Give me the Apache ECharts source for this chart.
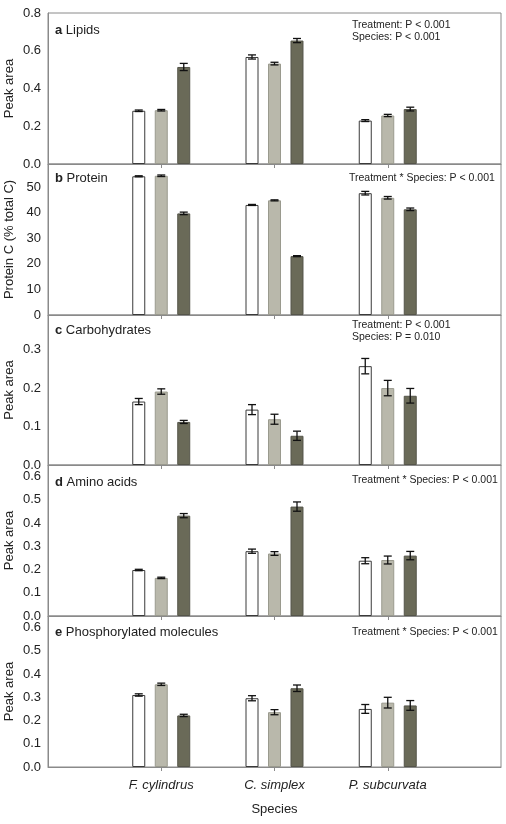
<!DOCTYPE html>
<html>
<head>
<meta charset="utf-8">
<script src="https://cdn.jsdelivr.net/npm/echarts@6/dist/echarts.min.js"></script>
<style>
html,body{margin:0;padding:0;background:#fff;}
#chart{width:506px;height:824px;}
</style>
</head>
<body>
<div id="chart"></div>
<script>
// ---------- data ----------
const categories = ['', 'F. cylindrus', 'C. simplex', 'P. subcurvata', ''];
const catIndex = [1, 2, 3];

const lipidsWhite = [0.282, 0.567, 0.230];
const lipidsWhiteErr = [0.004, 0.011, 0.005];
const lipidsGray = [0.285, 0.532, 0.257];
const lipidsGrayErr = [0.004, 0.007, 0.006];
const lipidsDark = [0.514, 0.654, 0.291];
const lipidsDarkErr = [0.019, 0.011, 0.010];

const proteinWhite = [54.2, 43.0, 47.6];
const proteinWhiteErr = [0.2, 0.2, 0.7];
const proteinGray = [54.4, 44.8, 45.8];
const proteinGrayErr = [0.3, 0.2, 0.5];
const proteinDark = [39.7, 23.0, 41.3];
const proteinDarkErr = [0.5, 0.2, 0.5];

const carbWhite = [0.165, 0.144, 0.257];
const carbWhiteErr = [0.008, 0.013, 0.020];
const carbGray = [0.191, 0.119, 0.200];
const carbGrayErr = [0.007, 0.013, 0.020];
const carbDark = [0.112, 0.076, 0.180];
const carbDarkErr = [0.004, 0.012, 0.019];

const aminoWhite = [0.198, 0.279, 0.238];
const aminoWhiteErr = [0.003, 0.009, 0.013];
const aminoGray = [0.164, 0.269, 0.241];
const aminoGrayErr = [0.003, 0.008, 0.017];
const aminoDark = [0.432, 0.471, 0.260];
const aminoDarkErr = [0.009, 0.020, 0.018];

const phosWhite = [0.310, 0.296, 0.250];
const phosWhiteErr = [0.005, 0.011, 0.019];
const phosGray = [0.356, 0.236, 0.277];
const phosGrayErr = [0.005, 0.011, 0.023];
const phosDark = [0.222, 0.339, 0.265];
const phosDarkErr = [0.005, 0.014, 0.021];

const yTicksA = [0, 0.2, 0.4, 0.6, 0.8];
const yTicksB = [0, 10, 20, 30, 40, 50];
const yTicksC = [0, 0.1, 0.2, 0.3];
const yTicksDE = [0, 0.1, 0.2, 0.3, 0.4, 0.5, 0.6];

// ---------- styling / layout ----------
const FONT = 'Liberation Sans, Arial, Helvetica, sans-serif';
const TXT = '#222';
const AXC = '#8a8a8a';
const gridTops = [13, 164, 315, 465, 616];
const gridHeights = [151, 151, 150, 151, 151];

const panels = [
  {title: 'a', name: 'Lipids', yName: 'Peak area', max: 0.8, interval: 0.2, dec: 1, showMax: true,
   white: lipidsWhite, whiteErr: lipidsWhiteErr, gray: lipidsGray, grayErr: lipidsGrayErr, dark: lipidsDark, darkErr: lipidsDarkErr},
  {title: 'b', name: 'Protein', yName: 'Protein C (% total C)', max: 59, interval: 10, dec: 0, showMax: false,
   white: proteinWhite, whiteErr: proteinWhiteErr, gray: proteinGray, grayErr: proteinGrayErr, dark: proteinDark, darkErr: proteinDarkErr},
  {title: 'c', name: 'Carbohydrates', yName: 'Peak area', max: 0.39, interval: 0.1, dec: 1, showMax: false,
   white: carbWhite, whiteErr: carbWhiteErr, gray: carbGray, grayErr: carbGrayErr, dark: carbDark, darkErr: carbDarkErr},
  {title: 'd', name: 'Amino acids', yName: 'Peak area', max: 0.65, interval: 0.1, dec: 1, showMax: false,
   white: aminoWhite, whiteErr: aminoWhiteErr, gray: aminoGray, grayErr: aminoGrayErr, dark: aminoDark, darkErr: aminoDarkErr},
  {title: 'e', name: 'Phosphorylated molecules', yName: 'Peak area', max: 0.65, interval: 0.1, dec: 1, showMax: false,
   white: phosWhite, whiteErr: phosWhiteErr, gray: phosGray, grayErr: phosGrayErr, dark: phosDark, darkErr: phosDarkErr}
];

const treatments = [
  {key: 'white', color: '#ffffff', border: '#3a3a3a', offset: -22.5},
  {key: 'gray', color: '#b9b8ab', border: '#9a9a8e', offset: 0},
  {key: 'dark', color: '#6a6a58', border: '#55554a', offset: 22.5}
];

function errRenderer(offset) {
  return function (params, api) {
    const x = api.value(0);
    const pLo = api.coord([x, api.value(1)]);
    const pHi = api.coord([x, api.value(2)]);
    const cx = pLo[0] + offset;
    const h = 4;
    const st = {stroke: '#111', lineWidth: 1.3};
    return {type: 'group', children: [
      {type: 'line', shape: {x1: cx, y1: pLo[1], x2: cx, y2: pHi[1]}, style: st},
      {type: 'line', shape: {x1: cx - h, y1: pLo[1], x2: cx + h, y2: pLo[1]}, style: st},
      {type: 'line', shape: {x1: cx - h, y1: pHi[1], x2: cx + h, y2: pHi[1]}, style: st}
    ]};
  };
}

const grid = [], xAxis = [], yAxis = [], series = [];
panels.forEach(function (p, i) {
  grid.push({left: 48, right: 5, top: gridTops[i], height: gridHeights[i], show: true,
    containLabel: false, outerBoundsMode: 'none',
    borderColor: AXC, borderWidth: 1, backgroundColor: 'transparent'});
  const last = i === panels.length - 1;
  xAxis.push({
    type: 'category', gridIndex: i, data: categories, boundaryGap: false,
    axisLine: {show: true, lineStyle: {color: AXC, width: 1}},
    axisTick: {show: true, length: 4, interval: function (k) { return k >= 1 && k <= 3; }, lineStyle: {color: AXC}},
    axisLabel: {show: last, interval: function (k) { return k >= 1 && k <= 3; }, margin: 12,
      fontFamily: FONT, fontSize: 13, fontStyle: 'italic', color: TXT},
    splitLine: {show: false},
    name: last ? 'Species' : '', nameLocation: 'middle', nameGap: 36, nameMoveOverlap: false,
    nameTextStyle: {fontFamily: FONT, fontSize: 13, color: TXT}
  });
  yAxis.push({
    type: 'value', gridIndex: i, min: 0, max: p.max, interval: p.interval,
    axisLine: {show: true, lineStyle: {color: AXC, width: 1}},
    axisTick: {show: false},
    splitLine: {show: false},
    axisLabel: {margin: 7, fontFamily: FONT, fontSize: 13, color: TXT, showMaxLabel: p.showMax,
      formatter: function (v) { return v.toFixed(p.dec); }},
    name: p.yName, nameLocation: 'middle', nameGap: 32, nameMoveOverlap: false,
    nameTextStyle: {fontFamily: FONT, fontSize: 13, color: TXT}
  });
  treatments.forEach(function (t, j) {
    const vals = p[t.key];
    series.push({
      type: 'bar', xAxisIndex: i, yAxisIndex: i, name: t.key,
      barWidth: 13, barGap: '73%',
      itemStyle: {color: t.color, borderColor: t.border, borderWidth: 1},
      data: catIndex.map(function (c, k) { return [c, vals[k]]; }),
      z: 2, silent: true
    });
  });
  treatments.forEach(function (t) {
    const vals = p[t.key], errs = p[t.key + 'Err'];
    series.push({
      type: 'custom', xAxisIndex: i, yAxisIndex: i,
      renderItem: errRenderer(t.offset),
      data: catIndex.map(function (c, k) { return [c, vals[k] - errs[k], vals[k] + errs[k]]; }),
      z: 5, silent: true
    });
  });
});

// panel labels & statistics text
const titleY = [31.7, 180, 332.3, 484, 634];
const graphics = [];
panels.forEach(function (p, i) {
  graphics.push({type: 'text', left: 55, top: titleY[i] - 8, z: 10,
    style: {text: '{b|' + p.title + '} ' + p.name, font: '13px ' + FONT, fill: TXT,
      rich: {b: {fontWeight: 'bold', fontFamily: FONT, fontSize: 13, fill: TXT}}}});
});
const statFont = '10.5px ' + FONT;
const stats = [
  {x: 352, y: 25, t: 'Treatment: P < 0.001'},
  {x: 352, y: 36.7, t: 'Species: P < 0.001'},
  {x: 349, y: 178.3, t: 'Treatment * Species: P < 0.001'},
  {x: 352, y: 325, t: 'Treatment: P < 0.001'},
  {x: 352, y: 337, t: 'Species: P = 0.010'},
  {x: 352, y: 480, t: 'Treatment * Species: P < 0.001'},
  {x: 352, y: 631.7, t: 'Treatment * Species: P < 0.001'}
];
stats.forEach(function (s) {
  graphics.push({type: 'text', x: s.x, y: s.y, z: 10,
    style: {text: s.t, font: statFont, fill: TXT, textAlign: 'left', textVerticalAlign: 'middle'}});
});

const chart = echarts.init(document.getElementById('chart'), null, {renderer: 'canvas'});
chart.setOption({
  backgroundColor: '#ffffff',
  animation: false,
  textStyle: {fontFamily: FONT},
  grid: grid, xAxis: xAxis, yAxis: yAxis, series: series,
  graphic: graphics
});
</script>
</body>
</html>
